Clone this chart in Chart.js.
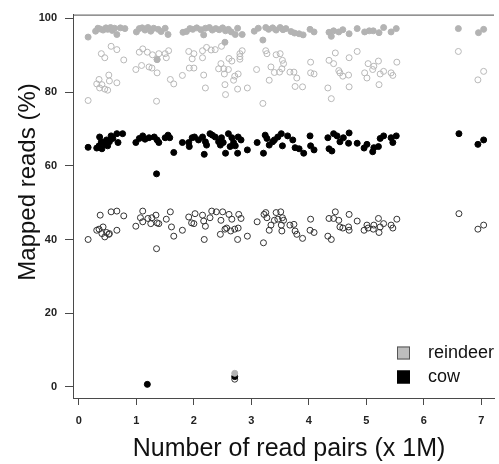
<!DOCTYPE html>
<html lang="en">
<head>
  <meta charset="UTF-8" />
  <title>Mapped reads vs read pairs</title>
  <script src="https://cdn.jsdelivr.net/npm/chart.js"></script>
  <style>
    html, body { margin: 0; padding: 0; background: #fff; }
    canvas { display: block; }
  </style>
</head>
<body>
  <canvas id="chart" width="499" height="464"></canvas>

  <script>
    // [read pairs (x 1M), mapped reads (%)]
    const reindeerFilled = [
      [0.16,94.9],[0.29,96.5],[0.33,97.3],[0.37,97.1],[0.42,96.8],[0.47,97.4],[0.50,97.0],[0.55,97.5],[0.58,96.7],[0.62,97.3],[0.66,95.6],[0.72,97.4],[0.80,97.2],
      [1.00,96.3],[1.05,97.2],[1.10,97.4],[1.15,96.8],[1.20,97.5],[1.25,96.5],[1.30,97.3],[1.36,88.8],[1.38,97.0],[1.43,96.4],[1.50,97.3],[1.55,95.6],
      [1.81,96.2],[1.87,96.4],[1.93,97.2],[1.98,97.0],[2.05,97.4],[2.12,96.9],[2.17,95.5],[2.20,97.3],[2.27,97.5],[2.32,96.8],[2.38,97.2],[2.44,96.9],[2.50,97.4],[2.54,93.5],[2.55,96.6],[2.60,97.0],[2.65,96.3],[2.72,95.6],[2.76,97.3],[2.84,95.6],
      [2.71,3.7],
      [3.05,96.5],[3.12,97.3],[3.20,94.1],[3.25,97.5],[3.30,97.0],[3.37,97.4],[3.43,96.8],[3.50,97.5],[3.55,96.9],[3.60,97.2],[3.69,96.4],[3.75,96.0],[3.83,95.8],[3.90,95.5],[4.02,97.0],[4.09,96.3],
      [4.35,96.2],[4.39,95.1],[4.43,96.6],[4.52,96.3],[4.59,96.9],[4.70,95.8],[4.84,97.2],[4.97,96.3],[5.05,96.6],[5.12,96.6],[5.22,96.1],[5.30,97.5],[5.43,96.3],[5.52,97.2],
      [6.60,97.2],[6.95,96.1],[7.04,97.0]
    ];

    const reindeerOpen = [
      [0.16,77.7],[0.31,82.2],[0.35,83.4],[0.36,81.1],[0.40,82.0],[0.45,80.8],[0.50,80.5],[0.52,84.6],[0.53,83.0],[0.66,82.5],[0.39,90.4],[0.45,89.3],[0.56,92.4],[0.66,91.5],[0.78,88.7],
      [0.99,86.1],[1.09,87.2],[1.05,90.8],[1.11,91.7],[1.19,90.8],[1.22,86.8],[1.27,86.5],[1.28,90.1],[1.36,88.8],[1.36,85.2],[1.39,90.4],[1.50,90.4],[1.52,89.3],[1.56,91.2],[1.35,77.5],[1.59,83.4],[1.65,82.2],[1.80,84.5],
      [1.91,91.0],[2.00,90.4],[1.97,89.0],[1.92,86.5],[2.00,86.5],[2.15,91.2],[2.17,84.6],[2.20,81.1],[2.15,89.3],[2.22,92.1],[2.30,91.4],[2.37,91.5],[2.48,92.4],[2.47,87.7],[2.43,86.3],[2.52,86.3],[2.60,86.1],[2.53,84.9],[2.54,82.0],[2.55,79.3],[2.61,89.1],[2.66,88.4],[2.69,83.2],[2.71,84.3],[2.77,84.9],[2.76,80.8],[2.80,89.6],[2.80,88.9],[2.80,90.4],[2.84,91.2],[2.93,81.1],
      [3.09,86.1],[3.20,76.9],[3.25,91.2],[3.27,90.4],[3.31,83.2],[3.34,86.8],[3.43,90.1],[3.40,85.3],[3.50,90.4],[3.54,88.6],[3.56,87.7],[3.53,86.3],[3.49,85.4],[3.67,85.4],[3.74,85.4],[3.79,83.8],[3.76,81.5],[3.89,81.4],[4.03,88.1],[4.03,85.2],[4.09,84.9],
      [4.35,88.6],[4.43,87.7],[4.46,90.6],[4.33,81.1],[4.39,78.2],[4.52,85.8],[4.54,85.2],[4.59,84.3],[4.69,84.6],[4.70,89.3],[4.70,81.4],[4.84,91.0],[4.97,85.2],[5.03,87.7],[5.01,83.8],[5.11,86.1],[5.13,87.0],[5.21,88.4],[5.24,84.9],[5.22,82.0],[5.30,85.6],[5.43,85.2],[5.46,84.5],[5.53,88.1],
      [6.60,91.0],[6.94,83.3],[7.04,85.6]
    ];

    const cowFilled = [
      [0.16,65.0],[0.31,64.8],[0.35,65.4],[0.36,67.8],[0.39,66.5],[0.40,64.6],[0.45,65.8],[0.48,67.0],[0.50,65.4],[0.53,66.5],[0.56,68.1],[0.59,67.4],[0.66,68.7],[0.68,66.3],[0.76,68.7],
      [0.99,66.3],[1.05,67.4],[1.11,68.1],[1.15,67.2],[1.22,67.6],[1.31,67.8],[1.36,67.0],[1.39,66.3],[1.50,67.6],[1.55,68.3],[1.58,67.6],[1.65,63.6],[1.35,57.8],
      [1.80,66.3],[1.91,66.3],[1.97,67.6],[2.01,67.8],[1.92,65.2],[2.08,67.0],[2.15,67.8],[2.18,63.1],[2.20,66.5],[2.22,65.6],[2.28,68.7],[2.32,68.3],[2.37,67.8],[2.43,66.5],[2.46,65.6],[2.48,67.6],[2.51,66.3],[2.55,63.4],[2.60,68.7],[2.63,65.2],[2.66,67.6],[2.69,66.3],[2.72,65.4],[2.76,63.4],[2.77,67.8],[2.82,67.0],[2.93,64.3],
      [3.10,66.3],[3.21,63.4],[3.24,68.3],[3.27,67.4],[3.31,65.6],[3.37,66.5],[3.40,67.0],[3.46,67.8],[3.52,68.7],[3.54,65.4],[3.63,68.1],[3.72,67.0],[3.76,64.9],[3.83,64.6],[3.91,63.4],[4.02,68.1],[4.03,65.4],[4.09,64.3],
      [4.33,67.6],[4.35,64.6],[4.40,64.0],[4.43,68.7],[4.49,68.1],[4.54,66.5],[4.60,67.6],[4.69,66.1],[4.70,68.9],[4.84,66.1],[4.96,64.8],[5.01,65.8],[5.11,63.8],[5.13,64.9],[5.21,65.2],[5.24,67.4],[5.30,68.1],[5.43,67.6],[5.46,66.3],[5.52,68.1],
      [6.61,68.7],[6.94,65.8],[7.04,67.0],
      [1.19,0.7],[2.71,2.8]
    ];

    const cowOpen = [
      [0.16,40.0],[0.31,42.5],[0.35,42.8],[0.37,46.6],[0.40,41.6],[0.42,43.4],[0.45,40.7],[0.48,41.9],[0.52,41.4],[0.53,41.6],[0.56,47.5],[0.66,47.7],[0.66,42.5],[0.78,46.4],
      [0.99,43.6],[1.07,45.9],[1.11,47.7],[1.11,44.8],[1.20,45.7],[1.25,44.3],[1.27,45.9],[1.34,46.6],[1.35,37.5],[1.36,44.5],[1.39,44.3],[1.52,45.5],[1.59,47.5],[1.61,43.4],[1.65,40.9],[1.80,42.5],
      [1.91,46.1],[1.96,44.5],[2.00,44.3],[2.02,47.0],[2.15,46.6],[2.17,45.0],[2.18,40.0],[2.20,43.6],[2.28,45.9],[2.31,47.7],[2.39,47.5],[2.46,41.4],[2.47,45.2],[2.50,47.5],[2.54,42.8],[2.57,43.1],[2.61,46.8],[2.64,42.3],[2.66,45.5],[2.71,42.8],[2.76,40.0],[2.77,43.1],[2.78,46.8],[2.82,45.7],[2.93,40.9],
      [3.10,44.8],[3.21,39.1],[3.22,46.8],[3.25,47.3],[3.27,45.9],[3.31,42.5],[3.34,43.9],[3.40,45.2],[3.43,47.3],[3.46,45.5],[3.51,47.5],[3.52,43.9],[3.56,45.2],[3.54,45.9],[3.53,42.3],[3.67,43.9],[3.74,44.1],[3.76,42.3],[3.79,41.4],[3.89,40.3],[4.03,45.5],[4.02,42.5],[4.09,41.9],
      [4.33,40.9],[4.35,45.7],[4.39,40.0],[4.43,45.7],[4.46,47.5],[4.52,45.2],[4.54,43.4],[4.59,43.1],[4.69,43.4],[4.70,42.5],[4.70,46.8],[4.84,45.0],[4.96,42.5],[5.01,43.9],[5.03,43.1],[5.12,42.8],[5.13,43.9],[5.21,45.7],[5.22,41.9],[5.24,43.4],[5.30,44.3],[5.43,43.9],[5.46,43.1],[5.53,45.5],
      [6.61,47.0],[6.94,42.8],[7.04,43.9],
      [2.71,2.1]
    ];

    const xTicks = [0, 1, 2, 3, 4, 5, 6, 7];
    const yTicks = [0, 20, 40, 60, 80, 100];
    const legendLabels = ["reindeer", "cow"];
    const legendColors = ["#bdbdbd", "#000000"];

    const toPoints = arr => arr.map(([x, y]) => ({ x, y }));
    const axisColor = "#4a4a4a";
    const tickFont = { family: "Liberation Sans", size: 11, weight: "bold" };

    // titles, top frame line and the little legend box in the lower right
    const extras = {
      id: "extras",
      afterDraw(chart) {
        const { ctx, chartArea } = chart;
        ctx.save();
        ctx.strokeStyle = axisColor;
        ctx.lineWidth = 1;
        ctx.beginPath();
        ctx.moveTo(chartArea.left, chartArea.top + 0.5);
        ctx.lineTo(chartArea.right, chartArea.top + 0.5);
        ctx.stroke();

        ctx.fillStyle = "#111";
        ctx.font = "24px 'Liberation Sans'";
        ctx.textAlign = "center";
        ctx.textBaseline = "middle";
        ctx.save();
        ctx.translate(28, 182);
        ctx.rotate(-Math.PI / 2);
        ctx.fillText("Mapped reads (%)", 0, 0);
        ctx.restore();

        ctx.font = "25px 'Liberation Sans'";
        ctx.textBaseline = "alphabetic";
        ctx.fillText("Number of read pairs (x 1M)", 289, 456);

        ctx.font = "18px 'Liberation Sans'";
        ctx.textAlign = "left";
        ctx.textBaseline = "middle";
        legendLabels.forEach((label, i) => {
          const cy = 353 + i * 24;
          ctx.fillStyle = legendColors[i];
          ctx.fillRect(397, cy - 6.5, 13, 13);
          ctx.strokeStyle = i === 0 ? "#555" : "#000";
          ctx.strokeRect(397.5, cy - 6, 12, 12);
          ctx.fillStyle = "#111";
          ctx.fillText(label, 428, cy);
        });
        ctx.restore();
      }
    };

    new Chart(document.getElementById("chart").getContext("2d"), {
      type: "scatter",
      data: {
        datasets: [
          {
            label: "reindeer",
            data: toPoints(reindeerFilled),
            backgroundColor: "#b3b3b3",
            borderColor: "#b3b3b3",
            pointRadius: 3,
            borderWidth: 1
          },
          {
            label: "reindeer (open)",
            data: toPoints(reindeerOpen),
            backgroundColor: "rgba(0,0,0,0)",
            borderColor: "#b8b8b8",
            pointRadius: 3,
            borderWidth: 1
          },
          {
            label: "cow",
            data: toPoints(cowFilled),
            backgroundColor: "#000",
            borderColor: "#000",
            pointRadius: 3,
            borderWidth: 1
          },
          {
            label: "cow (open)",
            data: toPoints(cowOpen),
            backgroundColor: "rgba(0,0,0,0)",
            borderColor: "#333",
            pointRadius: 3,
            borderWidth: 1
          }
        ]
      },
      options: {
        responsive: false,
        animation: false,
        devicePixelRatio: 1,
        layout: { padding: { top: 12, right: 0, left: 0, bottom: 0 } },
        plugins: {
          legend: { display: false },
          tooltip: { enabled: false }
        },
        scales: {
          x: {
            type: "linear",
            min: -0.103,
            max: 7.22,
            afterBuildTicks: s => { s.ticks = xTicks.map(v => ({ value: v })); },
            afterFit: s => { s.height = 66; },
            ticks: { font: tickFont, color: "#222", padding: 9 },
            grid: { drawOnChartArea: false, tickLength: 7, color: axisColor },
            border: { color: axisColor, width: 1 }
          },
          y: {
            min: -3,
            max: 101,
            afterBuildTicks: s => { s.ticks = yTicks.map(v => ({ value: v })); },
            afterFit: s => { s.width = 73; },
            ticks: { font: tickFont, color: "#222", padding: 8 },
            grid: { drawOnChartArea: false, tickLength: 8, color: axisColor },
            border: { color: axisColor, width: 1 }
          }
        }
      },
      plugins: [extras]
    });
  </script>
</body>
</html>
